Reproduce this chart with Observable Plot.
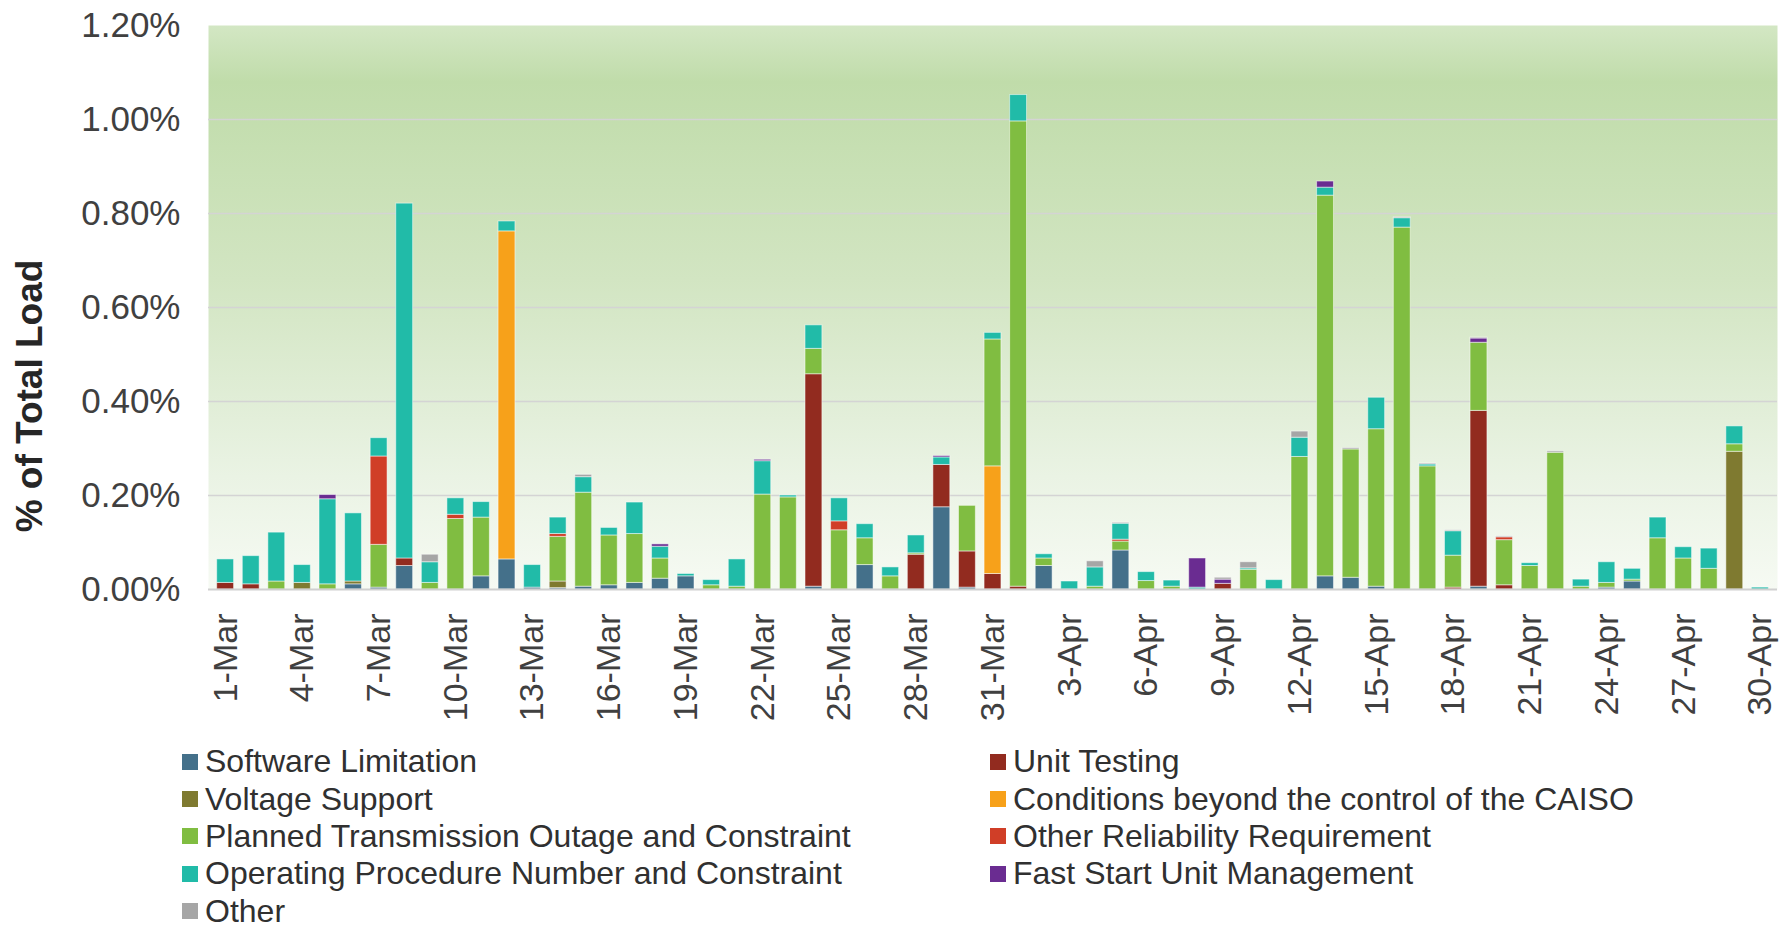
<!DOCTYPE html>
<html><head><meta charset="utf-8">
<script src="https://cdn.jsdelivr.net/npm/d3@7"></script>
<script src="https://cdn.jsdelivr.net/npm/@observablehq/plot@0.6"></script>
<style>
body{margin:0;background:#fff;font-family:"Liberation Sans",Arial,sans-serif;}
#wrap{position:relative;width:1785px;height:930px;overflow:hidden;}
#chart{position:absolute;left:0;top:0;}
#ylabel{position:absolute;left:30px;top:396px;transform:translate(-50%,-50%) rotate(-90deg);font-weight:bold;font-size:37px;color:#262626;white-space:nowrap;}
#legend{position:absolute;left:182px;top:743px;display:grid;grid-template-columns:808px auto;grid-auto-flow:column;grid-template-rows:repeat(5,37.4px);font-size:32px;color:#303030;}
.item{display:flex;align-items:center;line-height:37px;white-space:nowrap;}
.sw{width:16px;height:16px;margin-right:7px;flex:none;}
</style></head>
<body>
<div id="wrap">
<div id="chart"></div>
<div id="ylabel">% of Total Load</div>
<div id="legend"></div>
</div>
<script>
const days = ["1-Mar","2-Mar","3-Mar","4-Mar","5-Mar","6-Mar","7-Mar","8-Mar","9-Mar","10-Mar","11-Mar","12-Mar","13-Mar","14-Mar","15-Mar","16-Mar","17-Mar","18-Mar","19-Mar","20-Mar","21-Mar","22-Mar","23-Mar","24-Mar","25-Mar","26-Mar","27-Mar","28-Mar","29-Mar","30-Mar","31-Mar",
"1-Apr","2-Apr","3-Apr","4-Apr","5-Apr","6-Apr","7-Apr","8-Apr","9-Apr","10-Apr","11-Apr","12-Apr","13-Apr","14-Apr","15-Apr","16-Apr","17-Apr","18-Apr","19-Apr","20-Apr","21-Apr","22-Apr","23-Apr","24-Apr","25-Apr","26-Apr","27-Apr","28-Apr","29-Apr","30-Apr"];
const xTickLabels = ["1-Mar","4-Mar","7-Mar","10-Mar","13-Mar","16-Mar","19-Mar","22-Mar","25-Mar","28-Mar","31-Mar","3-Apr","6-Apr","9-Apr","12-Apr","15-Apr","18-Apr","21-Apr","24-Apr","27-Apr","30-Apr"];
const yTicks = [0, 0.2, 0.4, 0.6, 0.8, 1.0, 1.2];

const series = ["Software Limitation","Unit Testing","Voltage Support","Conditions beyond the control of the CAISO","Planned Transmission Outage and Constraint","Other Reliability Requirement","Operating Procedure Number and Constraint","Fast Start Unit Management","Other"];
const colors = ["#44708a","#922b1f","#7f7a30","#f7a11a","#80bd41","#d03e27","#21bba8","#6a2c91","#a6a6a6"];
const legendOrder = ["Software Limitation","Voltage Support","Planned Transmission Outage and Constraint","Operating Procedure Number and Constraint","Other","Unit Testing","Conditions beyond the control of the CAISO","Other Reliability Requirement","Fast Start Unit Management"];

// values in % of total load, one per day (1-Mar .. 30-Apr)
const softwareLimitation = [0,0,0,0,0,0.011,0.004,0.05,0,0,0.028,0.064,0.004,0.003,0.006,0.009,0.014,0.023,0.028,0,0,0,0,0.006,0,0.052,0,0,0.175,0.004,0,
0,0.05,0,0,0.083,0,0,0,0,0,0,0,0.028,0.025,0.006,0,0,0,0.006,0,0,0,0,0.004,0.017,0,0,0,0,0];
const unitTesting = [0.014,0.011,0,0,0,0,0,0.016,0,0,0,0,0,0,0,0,0,0,0,0,0,0,0,0.452,0,0,0,0.074,0.09,0.077,0.033,
0.006,0,0,0,0,0,0,0,0.012,0,0,0,0,0,0,0,0,0.004,0.374,0.009,0,0,0,0,0,0,0,0,0,0];
const voltageSupport = [0,0,0,0.014,0,0.006,0,0,0,0,0,0,0,0.014,0,0,0,0,0,0,0,0,0,0,0,0,0,0,0,0,0,
0,0,0,0,0,0,0,0,0,0,0,0,0,0,0,0,0,0,0,0,0,0,0,0,0,0,0,0,0.293,0];
const conditionsBeyond = [0,0,0,0,0,0,0,0,0,0,0,0.698,0,0,0,0,0,0,0,0,0,0,0,0,0,0,0,0,0,0,0.229,
0,0,0,0,0,0,0,0,0,0,0,0,0,0,0,0,0,0,0,0,0,0,0,0,0,0,0,0,0,0];
const plannedTransmission = [0,0,0.017,0,0.011,0,0.091,0,0.014,0.15,0.125,0,0,0.095,0.2,0.106,0.104,0.043,0,0.009,0.006,0.202,0.196,0.054,0.126,0.057,0.028,0.003,0,0.097,0.27,
0.99,0.016,0,0.006,0.019,0.018,0.006,0,0,0.042,0,0.282,0.81,0.273,0.335,0.77,0.262,0.068,0.145,0.096,0.05,0.291,0.006,0.01,0.004,0.109,0.066,0.044,0.016,0];
const otherReliability = [0,0,0,0,0,0,0.188,0,0,0.009,0,0,0,0.006,0,0,0,0,0,0,0,0,0,0,0.019,0,0,0,0,0,0,
0,0,0,0,0.004,0,0,0,0,0,0,0,0,0,0,0,0,0,0,0.006,0,0,0,0,0,0,0,0,0,0];
const operatingProcedure = [0.05,0.06,0.104,0.038,0.181,0.145,0.039,0.755,0.044,0.035,0.033,0.021,0.048,0.035,0.033,0.016,0.067,0.025,0.005,0.011,0.058,0.071,0.004,0.05,0.049,0.03,0.019,0.038,0.016,0,0.014,
0.056,0.009,0.017,0.041,0.034,0.019,0.013,0.004,0,0.003,0.02,0.041,0.017,0,0.067,0.02,0.004,0.052,0,0,0.006,0,0.015,0.044,0.023,0.044,0.024,0.043,0.038,0.004];
const fastStart = [0,0,0,0,0.009,0,0,0,0,0,0,0,0,0,0,0,0,0.005,0,0,0,0.003,0,0,0,0,0,0,0.003,0,0,
0,0,0,0,0,0,0,0.062,0.009,0,0,0,0.013,0,0,0,0,0,0.009,0,0,0,0,0,0,0,0,0,0,0];
const other = [0,0,0,0,0,0,0,0,0.016,0,0,0,0,0,0.005,0,0,0,0,0,0,0,0,0,0,0,0,0,0,0,0,
0,0,0,0.013,0.002,0,0,0,0.004,0.013,0,0.013,0,0.003,0,0.002,0.002,0.002,0.002,0.002,0,0.003,0,0,0,0,0,0,0,0];

const values = [softwareLimitation, unitTesting, voltageSupport, conditionsBeyond, plannedTransmission, otherReliability, operatingProcedure, fastStart, other];

const data = [];
days.forEach((d, i) => series.forEach((s, j) => {
  const v = values[j][i];
  if (v > 0) data.push({day: d, series: s, value: v});
}));

const chart = Plot.plot({
  width: 1785, height: 735,
  marginLeft: 208, marginRight: 8, marginTop: 25, marginBottom: 146,
  x: {domain: days, padding: 0.34, label: null},
  y: {domain: [0, 1.2], label: null},
  color: {domain: series, range: colors},
  style: {fontFamily: "'Liberation Sans', Arial, sans-serif", fontSize: "34px", color: "#404040", background: "transparent"},
  marks: [
    Plot.frame({fill: "url(#bgGrad)", stroke: "none"}),
    Plot.gridY(yTicks.filter(t => t > 0 && t < 1.2), {stroke: "#d4d4d4", strokeOpacity: 1, strokeWidth: 1.6}),
    Plot.barY(data, {x: "day", y: "value", fill: "series", order: series, stroke: "#ffffff", strokeOpacity: 0.5, strokeWidth: 1}),
    Plot.ruleY([0], {stroke: "#d0d0d0", strokeWidth: 2}),
    Plot.axisY(yTicks, {tickSize: 0, tickPadding: 28, tickFormat: d => d.toFixed(2) + "%", fontSize: 35, fill: "#404040", label: null}),
    Plot.axisX(xTickLabels, {tickSize: 0, tickPadding: 24, tickRotate: -90, fontSize: 34, fill: "#404040", label: null})
  ]
});

const svg = d3.select(chart);
const defs = svg.insert("defs", ":first-child");
const grad = defs.append("linearGradient").attr("id", "bgGrad").attr("x1", 0).attr("y1", 0).attr("x2", 0).attr("y2", 1);
[[0, "#d3e7c4"], [0.1, "#c0dcaa"], [0.45, "#d2e5c2"], [0.8, "#eaf3e4"], [1, "#f6faf3"]].forEach(([o, c]) =>
  grad.append("stop").attr("offset", o).attr("stop-color", c));

document.getElementById("chart").appendChild(chart);

const legend = d3.select("#legend");
legendOrder.forEach(name => {
  const it = legend.append("div").attr("class", "item");
  it.append("div").attr("class", "sw").style("background", colors[series.indexOf(name)]);
  it.append("span").text(name);
});
</script>
</body></html>
